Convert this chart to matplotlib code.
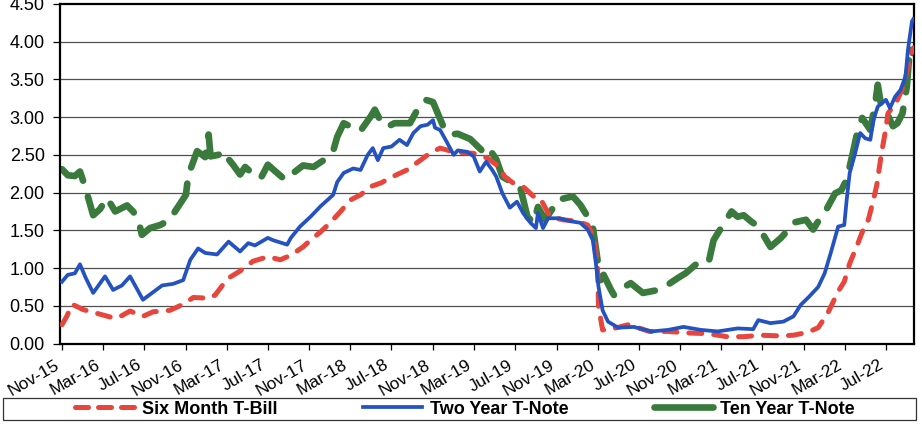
import numpy as np
import pandas as pd
import matplotlib
matplotlib.use('Agg')
import matplotlib.pyplot as plt
import matplotlib.dates as mdates
from matplotlib.lines import Line2D
from matplotlib.patches import Rectangle

plt.rcParams['font.family'] = ['Liberation Sans', 'DejaVu Sans']

# Six month T-bill yield (%)
tbill_dates = ['2015-11-01', '2015-11-15', '2015-12-01', '2016-01-02', '2016-02-12', '2016-03-31',
               '2016-04-14', '2016-05-20', '2016-06-27', '2016-07-27', '2016-09-15', '2016-10-24',
               '2016-11-23', '2017-01-07', '2017-01-26', '2017-03-04', '2017-04-10', '2017-05-18',
               '2017-07-01', '2017-08-07', '2017-09-07', '2017-10-13', '2017-11-04', '2017-12-04',
               '2018-01-01', '2018-02-01', '2018-03-01', '2018-04-01', '2018-05-01', '2018-06-01',
               '2018-07-04', '2018-08-16', '2018-09-25', '2018-10-25', '2018-11-22', '2019-01-01',
               '2019-03-01', '2019-04-10', '2019-05-16', '2019-06-01', '2019-06-25', '2019-07-25',
               '2019-08-25', '2019-09-13', '2019-10-13', '2019-11-19', '2020-01-01', '2020-02-01',
               '2020-02-19', '2020-03-01', '2020-03-04', '2020-03-16', '2020-04-01', '2020-06-01',
               '2020-08-01', '2020-09-25', '2020-11-22', '2021-01-22', '2021-03-19', '2021-05-07',
               '2021-06-25', '2021-08-25', '2021-10-01', '2021-11-13', '2021-12-13', '2022-01-10',
               '2022-02-10', '2022-02-28', '2022-03-16', '2022-04-07', '2022-04-25', '2022-05-10',
               '2022-05-25', '2022-06-04', '2022-06-19', '2022-07-01', '2022-07-07', '2022-07-22',
               '2022-08-04', '2022-08-22', '2022-09-04', '2022-09-16', '2022-09-21']
tbill = [0.25, 0.36, 0.52, 0.45, 0.40, 0.34,
         0.34, 0.43, 0.36, 0.42, 0.44, 0.52,
         0.61, 0.60, 0.64, 0.86, 0.96, 1.09,
         1.15, 1.11, 1.17, 1.28, 1.37, 1.48,
         1.60, 1.75, 1.90, 1.97, 2.08, 2.13,
         2.21, 2.30, 2.43, 2.53, 2.59, 2.54,
         2.52, 2.46, 2.34, 2.21, 2.13, 2.08,
         1.95, 1.93, 1.68, 1.64, 1.62, 1.57,
         1.42, 1.02, 0.49, 0.18, 0.18, 0.25,
         0.16, 0.16, 0.14, 0.13, 0.09, 0.09,
         0.11, 0.10, 0.11, 0.15, 0.21, 0.40,
         0.69, 0.82, 1.06, 1.30, 1.51, 1.64,
         1.90, 2.10, 2.55, 2.85, 3.05, 3.14,
         3.23, 3.41, 3.67, 3.85, 3.92]

# Two year T-note yield (%)
note2_dates = ['2015-11-01', '2015-11-18', '2015-12-09', '2015-12-24', '2016-01-10', '2016-02-01',
               '2016-03-07', '2016-03-31', '2016-04-26', '2016-05-20', '2016-06-27', '2016-07-24',
               '2016-08-23', '2016-09-24', '2016-10-24', '2016-11-14', '2016-12-07', '2016-12-28',
               '2017-02-01', '2017-03-07', '2017-04-10', '2017-05-04', '2017-05-24', '2017-07-01',
               '2017-07-16', '2017-08-27', '2017-09-07', '2017-10-04', '2017-11-04', '2017-12-04',
               '2018-01-10', '2018-01-22', '2018-02-10', '2018-03-10', '2018-04-01', '2018-04-22',
               '2018-05-07', '2018-05-22', '2018-06-07', '2018-07-01', '2018-07-25', '2018-08-16',
               '2018-09-04', '2018-09-25', '2018-10-16', '2018-11-01', '2018-11-07', '2018-11-22',
               '2018-12-13', '2019-01-01', '2019-01-13', '2019-02-10', '2019-03-01', '2019-03-19',
               '2019-04-07', '2019-04-25', '2019-05-07', '2019-05-25', '2019-06-16', '2019-07-07',
               '2019-07-25', '2019-08-16', '2019-09-01', '2019-09-07', '2019-09-22', '2019-10-07',
               '2019-11-10', '2019-12-13', '2020-01-10', '2020-02-01', '2020-02-16', '2020-02-25',
               '2020-03-04', '2020-03-16', '2020-04-01', '2020-05-01', '2020-06-16', '2020-08-07',
               '2020-09-25', '2020-11-10', '2021-01-01', '2021-02-19', '2021-04-19', '2021-06-04',
               '2021-06-19', '2021-07-25', '2021-09-01', '2021-10-01', '2021-10-22', '2021-11-16',
               '2021-12-13', '2022-01-01', '2022-01-19', '2022-02-10', '2022-02-28', '2022-03-07',
               '2022-03-16', '2022-04-01', '2022-04-16', '2022-05-01', '2022-05-16', '2022-05-25',
               '2022-06-07', '2022-07-01', '2022-07-13', '2022-07-28', '2022-08-13', '2022-08-28',
               '2022-09-04', '2022-09-16', '2022-09-20']
note2 = [0.82, 0.91, 0.93, 1.05, 0.87, 0.67,
         0.89, 0.71, 0.77, 0.89, 0.58, 0.67,
         0.77, 0.79, 0.84, 1.11, 1.26, 1.20,
         1.18, 1.35, 1.22, 1.33, 1.30, 1.40,
         1.37, 1.31, 1.40, 1.55, 1.68, 1.82,
         1.97, 2.14, 2.26, 2.32, 2.30, 2.50,
         2.59, 2.43, 2.59, 2.61, 2.70, 2.63,
         2.79, 2.88, 2.90, 2.96, 2.86, 2.83,
         2.66, 2.50, 2.56, 2.54, 2.48, 2.28,
         2.41, 2.30, 2.21, 1.99, 1.80, 1.88,
         1.73, 1.60, 1.53, 1.73, 1.53, 1.66,
         1.66, 1.62, 1.60, 1.51, 1.37, 1.07,
         0.75, 0.44, 0.29, 0.21, 0.22, 0.16,
         0.18, 0.22, 0.18, 0.16, 0.20, 0.19,
         0.31, 0.27, 0.29, 0.36, 0.51, 0.62,
         0.75, 0.93, 1.20, 1.55, 1.57, 1.90,
         2.26, 2.52, 2.79, 2.72, 2.70, 2.96,
         3.14, 3.23, 3.12, 3.27, 3.36, 3.54,
         3.89, 4.27, 4.30]

# Ten year T-note yield (%)
note10_dates = ['2015-11-01', '2015-11-18', '2015-12-09', '2015-12-24', '2016-01-08', '2016-02-01',
                '2016-02-21', '2016-03-13', '2016-04-06', '2016-05-11', '2016-05-29', '2016-06-13',
                '2016-06-24', '2016-07-18', '2016-08-17', '2016-09-15', '2016-10-01', '2016-11-01',
                '2016-11-08', '2016-12-04', '2016-12-28', '2017-01-07', '2017-01-13', '2017-02-04',
                '2017-02-27', '2017-03-04', '2017-03-20', '2017-04-10', '2017-04-25', '2017-05-10',
                '2017-06-10', '2017-07-01', '2017-07-16', '2017-08-21', '2017-09-20', '2017-10-13',
                '2017-11-13', '2017-12-13', '2018-01-10', '2018-01-22', '2018-02-10', '2018-03-10',
                '2018-04-01', '2018-05-01', '2018-05-13', '2018-05-29', '2018-06-19', '2018-07-10',
                '2018-08-25', '2018-09-16', '2018-10-10', '2018-11-01', '2018-12-01', '2018-12-22',
                '2019-01-13', '2019-02-19', '2019-03-25', '2019-04-10', '2019-05-07', '2019-05-25',
                '2019-06-25', '2019-07-16', '2019-08-07', '2019-08-25', '2019-09-07', '2019-09-28',
                '2019-10-22', '2019-11-01', '2019-12-19', '2020-01-10', '2020-02-01', '2020-02-16',
                '2020-03-01', '2020-03-10', '2020-03-19', '2020-04-10', '2020-04-19', '2020-05-16',
                '2020-06-07', '2020-07-13', '2020-08-28', '2020-09-25', '2020-10-25', '2020-11-16',
                '2021-01-07', '2021-01-25', '2021-02-07', '2021-03-01', '2021-04-01', '2021-04-19',
                '2021-05-07', '2021-05-28', '2021-06-19', '2021-07-25', '2021-08-25', '2021-09-16',
                '2021-09-28', '2021-11-07', '2021-11-28', '2021-12-13', '2021-12-28', '2022-02-01',
                '2022-02-19', '2022-03-07', '2022-03-25', '2022-04-07', '2022-04-22', '2022-05-16',
                '2022-06-01', '2022-06-07', '2022-06-19', '2022-07-04', '2022-07-22', '2022-08-04',
                '2022-08-19', '2022-09-01', '2022-09-10', '2022-09-18']
note10 = [2.31, 2.23, 2.22, 2.28, 2.08, 1.70,
          1.78, 1.93, 1.75, 1.83, 1.75, 1.64,
          1.44, 1.53, 1.57, 1.64, 1.76, 1.97,
          2.23, 2.55, 2.47, 2.77, 2.48, 2.50,
          2.54, 2.46, 2.37, 2.24, 2.34, 2.28,
          2.19, 2.37, 2.31, 2.17, 2.28, 2.36,
          2.34, 2.43, 2.55, 2.74, 2.92, 2.86,
          2.82, 3.01, 3.10, 2.96, 2.87, 2.92,
          2.92, 3.10, 3.23, 3.20, 2.88, 2.77,
          2.78, 2.71, 2.56, 2.62, 2.44, 2.21,
          2.13, 2.08, 1.68, 1.60, 1.81, 1.64,
          1.80, 1.90, 1.95, 1.84, 1.68, 1.55,
          1.11, 0.84, 0.91, 0.71, 0.64, 0.74,
          0.80, 0.67, 0.71, 0.78, 0.87, 0.93,
          1.13, 1.11, 1.37, 1.53, 1.75, 1.68,
          1.70, 1.62, 1.55, 1.28, 1.40, 1.51,
          1.60, 1.64, 1.51, 1.62, 1.70, 1.99,
          2.03, 2.17, 2.52, 2.79, 2.99, 2.83,
          3.23, 3.43, 3.10, 3.05, 2.88, 2.92,
          3.05, 3.41, 3.93, 3.85]

y_ticks = [0.0, 0.5, 1.0, 1.5, 2.0, 2.5, 3.0, 3.5, 4.0, 4.5]
series_labels = ['Six Month T-Bill', 'Two Year T-Note', 'Ten Year T-Note']

red = '#e8453c'
blue = '#2452c0'
green = '#3a7a3c'

W, H = 922, 428
fig = plt.figure(figsize=(W / 100, H / 100), dpi=100)
ax = fig.add_axes([60 / W, 1 - 343.5 / H, 854 / W, 339.5 / H])

# grid first so the yield lines sit on top
for v in y_ticks[1:-1]:
    ax.axhline(v, color='#505050', lw=0.9, zorder=1)

ax.plot(pd.to_datetime(tbill_dates), tbill, color=red, lw=3.6,
        dashes=(2.6, 2.4), dash_capstyle='round', zorder=3)
ax.plot(pd.to_datetime(note2_dates), note2, color=blue, lw=2.7,
        solid_joinstyle='round', zorder=4)
ax.plot(pd.to_datetime(note10_dates), note10, color=green, lw=4.8,
        dashes=(4.8, 2.5), dash_capstyle='round', zorder=2)

ax.set_ylim(0, 4.5)
ax.set_yticks(y_ticks)
ax.yaxis.set_major_formatter(plt.FuncFormatter(lambda v, p: '{:.2f}'.format(v)))
ax.set_xlim(pd.Timestamp('2015-10-26'), pd.Timestamp('2022-09-22'))
ax.xaxis.set_major_locator(mdates.MonthLocator(bymonth=(3, 7, 11)))
ax.xaxis.set_major_formatter(mdates.DateFormatter('%b-%y'))

for s in ax.spines.values():
    s.set_color('black')
    s.set_linewidth(1.6)

ax.tick_params(axis='y', length=5, width=0.9, pad=6, labelsize=13, colors='black')
ax.tick_params(axis='x', length=4, width=0.9, pad=6, labelsize=12.5, colors='black')
for lab in ax.get_xticklabels():
    lab.set_rotation(30)
    lab.set_ha('right')

# legend strip below the axis, proxies keep the key marks short
proxies = [Line2D([], [], color=red, lw=3.6, dashes=(2.6, 2.0), dash_capstyle='round'),
           Line2D([], [], color=blue, lw=2.7),
           Line2D([], [], color=green, lw=4.8, solid_capstyle='round')]
fig.patches.append(Rectangle((3 / W, 1 - 420 / H), 913 / W, 22 / H, transform=fig.transFigure,
                             fill=False, edgecolor='#333333', lw=0.9))
fig.legend(handles=proxies, labels=series_labels, loc='center', ncol=3, mode='expand',
           bbox_to_anchor=(75 / W, 1 - 420 / H, 780 / W, 22 / H), frameon=False,
           prop={'weight': 'bold', 'size': 13}, handlelength=3.3, handletextpad=0.4,
           borderpad=0.0, borderaxespad=0.0)

fig.savefig('out.png', dpi=100)
